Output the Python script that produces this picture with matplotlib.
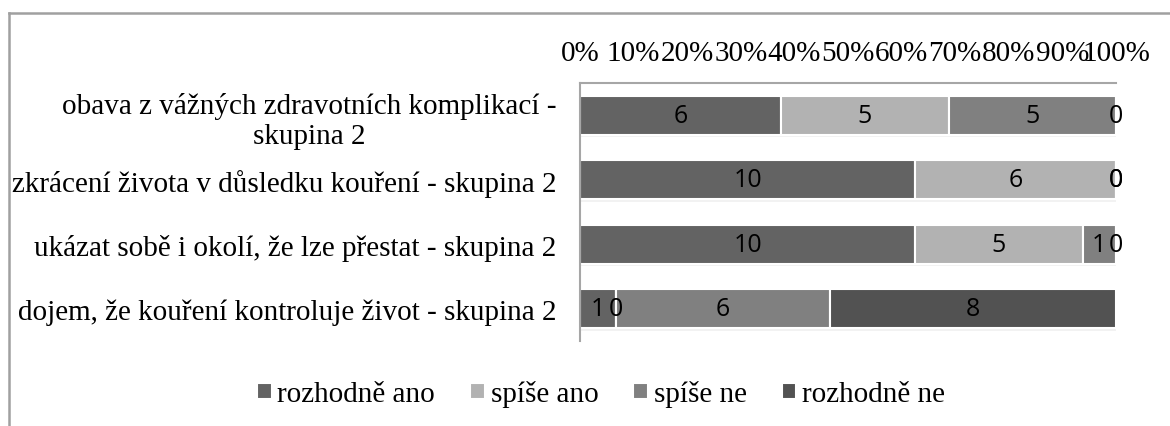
import numpy as np
import matplotlib
matplotlib.use("Agg")
import matplotlib.pyplot as plt
from matplotlib.lines import Line2D

# categories, top to bottom as in the chart
categories = [
    "obava z vážných zdravotních komplikací -\nskupina 2",
    "zkrácení života v důsledku kouření - skupina 2",
    "ukázat sobě i okolí, že lze přestat - skupina 2",
    "dojem, že kouření kontroluje život - skupina 2",
]
series_names = ["rozhodně ano", "spíše ano", "spíše ne", "rozhodně ne"]
rozhodne_ano = [6, 10, 10, 1]
spise_ano = [5, 6, 5, 0]
spise_ne = [5, 0, 1, 6]
rozhodne_ne = [0, 0, 0, 8]
tick_labels = ["0%", "10%", "20%", "30%", "40%", "50%", "60%", "70%", "80%", "90%", "100%"]

colors = ["#636363", "#b2b2b2", "#808080", "#525252"]
serif = "Liberation Serif"
sans = "Open Sans"

counts = np.array([rozhodne_ano, spise_ano, spise_ne, rozhodne_ne], dtype=float)
totals = counts.sum(axis=0)
shares = counts / totals

fig = plt.figure(figsize=(11.7, 4.27), dpi=100)
ax = fig.add_axes([580 / 1170, 1 - 342 / 427, 536 / 1170, 258 / 427])

y = np.arange(len(categories))
left = np.zeros(len(categories))
bar_h = 0.6
for i, name in enumerate(series_names):
    # faint shadow under the bars
    ax.barh(y + 0.04, shares[i], left=left, height=bar_h, color="#000000",
            alpha=0.05, linewidth=0, zorder=1)
    bars = ax.barh(y, shares[i], left=left, height=bar_h, color=colors[i],
                   edgecolor="white", linewidth=1.5, label=name, zorder=2)
    ax.bar_label(bars, labels=[str(int(v)) for v in counts[i]], label_type="center",
                 fontsize=18, family=sans, color="black", zorder=3)
    left += shares[i]

ax.set_ylim(len(categories) - 0.5, -0.5)
ax.set_xlim(0, 1)
ax.set_yticks(y)
ax.set_yticklabels(categories, family=serif, fontsize=21, multialignment="center")
ax.set_xticks(np.linspace(0, 1, len(tick_labels)))
ax.set_xticklabels(tick_labels, family=serif, fontsize=21)
ax.xaxis.tick_top()
ax.tick_params(axis="x", length=0, pad=12)
ax.tick_params(axis="y", length=0, pad=17)

for s in ["right", "bottom"]:
    ax.spines[s].set_visible(False)
for s in ["top", "left"]:
    ax.spines[s].set_color("#a6a6a6")
    ax.spines[s].set_linewidth(1.5)

leg = fig.legend(loc="center", bbox_to_anchor=(601 / 1170, 1 - 395 / 427), ncol=4,
                 frameon=False, prop={"family": serif, "size": 21},
                 handlelength=0.5, handleheight=0.5, handletextpad=0.2,
                 columnspacing=1.2)
for h in leg.legend_handles:
    h.set_edgecolor("white")

# outer chart frame
fig.add_artist(Line2D([9 / 1170, 1], [1 - 14 / 427, 1 - 14 / 427], color="#a0a0a0", lw=1.8))
fig.add_artist(Line2D([9 / 1170, 9 / 1170], [0, 1 - 14 / 427], color="#a0a0a0", lw=1.8))

fig.savefig("out.png", dpi=100)
